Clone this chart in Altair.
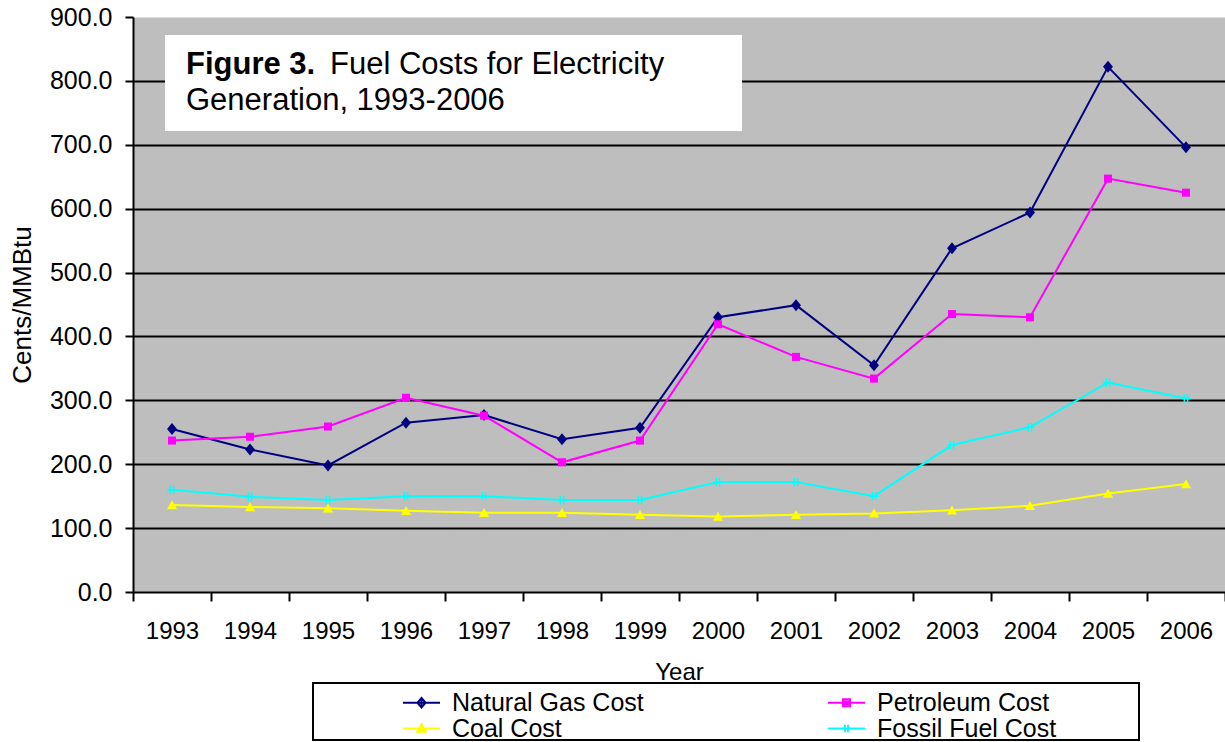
import altair as alt
import pandas as pd

# Fuel costs for electricity generation, cents per MMBtu
years = [1993, 1994, 1995, 1996, 1997, 1998, 1999, 2000, 2001, 2002, 2003, 2004, 2005, 2006]
natural_gas = [255, 223, 198, 265, 277, 239, 257, 430, 449, 355, 538, 594, 822, 696]
petroleum = [237, 243, 259, 304, 276, 203, 237, 419, 368, 334, 435, 430, 647, 625]
coal = [136, 133, 131, 127, 124, 124, 121, 118, 121, 123, 128, 135, 154, 169]
fossil_fuel = [160, 149, 144, 150, 150, 144, 144, 172, 172, 150, 230, 258, 328, 303]

series_names = ["Natural Gas Cost", "Petroleum Cost", "Coal Cost", "Fossil Fuel Cost"]
series_colors = ["#000080", "#FF00FF", "#FFFF00", "#00FFFF"]
y_ticks = [0, 100, 200, 300, 400, 500, 600, 700, 800, 900]

rows = []
for name, vals in zip(series_names, [natural_gas, petroleum, coal, fossil_fuel]):
    for yr, v in zip(years, vals):
        rows.append({"Year": str(yr), "Series": name, "Cost": v})
df = pd.DataFrame(rows)

FONT = "Liberation Sans"
W, H = 1092, 575

# marker outlines (unit square coordinates)
marker_paths = [
    "M0,-1L0.83,0L0,1L-0.83,0Z",
    "M-0.67,-0.67L0.67,-0.67L0.67,0.67L-0.67,0.67Z",
    "M0,-0.8L0.85,0.7L-0.85,0.7Z",
    "M-0.4,-0.7L-0.15,-0.7L-0.15,0.7L-0.4,0.7Z M0.15,-0.7L0.4,-0.7L0.4,0.7L0.15,0.7Z M-0.8,-0.12L0.8,-0.12L0.8,0.12L-0.8,0.12Z",
]

# legend entries are laid out column by column: (Natural Gas, Coal) then (Petroleum, Fossil)
legend_order = ["Natural Gas Cost", "Coal Cost", "Petroleum Cost", "Fossil Fuel Cost"]
legend_colors = ["#000080", "#FFFF00", "#FF00FF", "#00FFFF"]
# legend keys: a line segment (wider than the symbol box) through a small stroked marker
legend_paths = [
    "M-1.85,0L1.85,0M0,-0.48L0.41,0L0,0.48L-0.41,0Z M0,-0.37L0,0.37",
    "M-1.85,0L1.85,0M0,-0.44L0.44,0.33L-0.44,0.33Z M0,-0.33L0,0.33M-0.26,0.15L0.26,0.15",
    "M-1.85,0L1.85,0M-0.35,-0.35L0.35,-0.35L0.35,0.35L-0.35,0.35Z M-0.35,-0.13L0.35,-0.13M-0.35,0.13L0.35,0.13",
    "M-1.85,0L1.85,0M-0.15,-0.37L-0.15,0.37M0.15,-0.37L0.15,0.37",
]

x_enc = alt.X(
    "Year:O",
    bandPosition=0.5,
    scale=alt.Scale(type="band", paddingInner=0, paddingOuter=0),
    axis=alt.Axis(
        title="Year", titleFont=FONT, titleFontSize=24, titleFontWeight="normal",
        titleColor="black", titleY=80, titleBaseline="middle",
        labelFont=FONT, labelFontSize=24, labelColor="black", labelAngle=0,
        labelPadding=18, tickBand="extent", tickSize=9, tickColor="black",
        tickWidth=2, domainColor="black", domainWidth=2, grid=False,
    ),
)
y_enc = alt.Y(
    "Cost:Q",
    scale=alt.Scale(domain=[0, 900], nice=False),
    axis=alt.Axis(
        title="Cents/MMBtu", titleFont=FONT, titleFontSize=26, titleFontWeight="normal",
        titleColor="black", titleX=-111, titleY=H / 2, titleAngle=270,
        titleAlign="center", titleBaseline="middle",
        values=y_ticks, format=".1f", labelFont=FONT, labelFontSize=25,
        labelColor="black", labelPadding=13, tickSize=8, tickColor="black",
        tickWidth=2, domainColor="black", domainWidth=2,
        grid=True, gridColor="black", gridWidth=2,
        gridOpacity={"condition": {"test": "datum.value == 0 || datum.value == 900", "value": 0}, "value": 1},
    ),
)

base = alt.Chart(df)

# one line and one marker layer per series, in fixed colours
line_layers = [
    base.transform_filter(alt.datum.Series == name)
    .mark_line(strokeWidth=2, color=col)
    .encode(x=x_enc, y=y_enc)
    for name, col in zip(series_names, series_colors)
]
marker_layers = [
    base.transform_filter(alt.datum.Series == name)
    .mark_point(filled=True, opacity=1, size=144, shape=path, color=col)
    .encode(x=x_enc, y=y_enc)
    for name, path, col in zip(series_names, marker_paths, series_colors)
]
series_layers = []
for ln, mk in zip(line_layers, marker_layers):
    series_layers += [ln, mk]

legend = alt.Legend(
    title=None, orient="none", legendX=276, legendY=673,
    columns=2, columnPadding=180, rowPadding=-5, padding=0, labelLimit=400,
    labelFont=FONT, labelFontSize=25, labelColor="black", labelOffset=18,
    symbolSize=400, symbolStrokeWidth=2,
)
# layer that only carries the legend; its filter leaves no rows to draw
legend_layer = base.transform_filter(alt.datum.Cost < 0).mark_point(filled=False, opacity=1, strokeWidth=2).encode(
    x=x_enc, y=y_enc,
    color=alt.Color("Series:N", scale=alt.Scale(domain=legend_order, range=legend_colors), legend=legend),
    shape=alt.Shape("Series:N", scale=alt.Scale(domain=legend_order, range=legend_paths), legend=legend),
)

one = alt.Data(values=[{}])

# white frame behind the legend entries
legend_frame = alt.Chart(one).mark_rect(fill="white", stroke="black", strokeWidth=2).encode(
    x=alt.value(180), x2=alt.value(1006), y=alt.value(666), y2=alt.value(723),
)

# caption box inside the plot area
caption_box = alt.Chart(one).mark_rect(fill="white").encode(
    x=alt.value(32), x2=alt.value(609), y=alt.value(18), y2=alt.value(114),
)
caption_bold = alt.Chart(one).mark_text(
    text="Figure 3.", font=FONT, fontSize=31, fontWeight="bold", color="black",
    align="left", baseline="alphabetic",
).encode(x=alt.value(53), y=alt.value(57))
caption_rest = alt.Chart(one).mark_text(
    text="Fuel Costs for Electricity", font=FONT, fontSize=31, color="black",
    align="left", baseline="alphabetic",
).encode(x=alt.value(197), y=alt.value(57))
caption_line2 = alt.Chart(one).mark_text(
    text="Generation, 1993-2006", font=FONT, fontSize=31, color="black",
    align="left", baseline="alphabetic",
).encode(x=alt.value(53), y=alt.value(93))

chart = (
    alt.layer(*series_layers, legend_layer, legend_frame, caption_box,
              caption_bold, caption_rest, caption_line2)
    .properties(
        width=W, height=H,
        autosize=alt.AutoSizeParams(type="none"),
        padding={"left": 133, "top": 17, "right": 0, "bottom": 150},
        background="white",
    )
    .configure_view(fill="#bebebe", stroke="transparent")
)

chart.save("out.html", embed_options={"renderer": "svg", "actions": False})
